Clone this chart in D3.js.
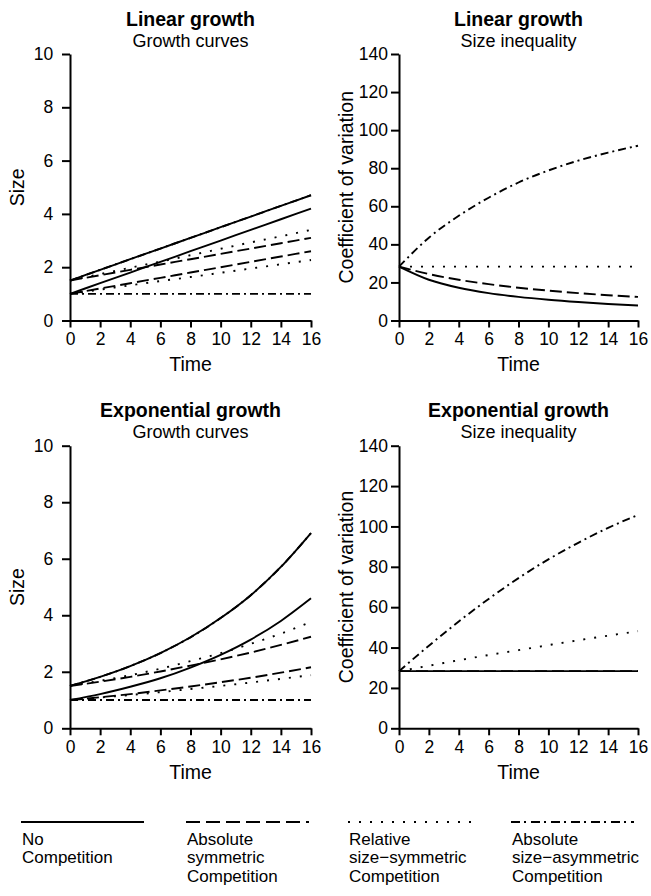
<!DOCTYPE html>
<html>
<head>
<meta charset="utf-8">
<script src="https://cdn.jsdelivr.net/npm/d3@7"></script>
<style>
  body { margin: 0; background: #fff; }
  svg { display: block; font-family: "Liberation Sans", Arial, Helvetica, sans-serif; }
  .axis path, .axis line { stroke: #000; stroke-width: 2; }
  .axis text { fill: #000; font-size: 17.5px; font-family: "Liberation Sans", Arial, sans-serif; }
</style>
</head>
<body>
<div class="chart"></div>
<script>
// time points and tick values
var time = [0, 2, 4, 6, 8, 10, 12, 14, 16];
var timeTicks = [0, 2, 4, 6, 8, 10, 12, 14, 16];
var sizeTicks = [0, 2, 4, 6, 8, 10];
var cvTicks = [0, 20, 40, 60, 80, 100, 120, 140];

// linear growth, sizes (large and small plant)
var linNoLarge     = [1.5, 1.9, 2.3, 2.7, 3.1, 3.5, 3.9, 4.3, 4.7];
var linNoSmall     = [1.0, 1.4, 1.8, 2.2, 2.6, 3.0, 3.4, 3.8, 4.2];
var linAbsSymLarge = [1.5, 1.7, 1.9, 2.1, 2.3, 2.5, 2.7, 2.9, 3.1];
var linAbsSymSmall = [1.0, 1.2, 1.4, 1.6, 1.8, 2.0, 2.2, 2.4, 2.6];
var linRelSymLarge = [1.5, 1.74, 1.98, 2.21, 2.45, 2.69, 2.93, 3.16, 3.4];
var linRelSymSmall = [1.0, 1.16, 1.32, 1.48, 1.63, 1.79, 1.95, 2.11, 2.27];
var linAsymLarge   = [1.5, 1.9, 2.3, 2.7, 3.1, 3.5, 3.9, 4.3, 4.7];
var linAsymSmall   = [1.0, 1.0, 1.0, 1.0, 1.0, 1.0, 1.0, 1.0, 1.0];

// linear growth, coefficient of variation
var linCvNo     = [28.3, 21.4, 17.2, 14.4, 12.4, 10.9, 9.7, 8.7, 7.9];
var linCvAbsSym = [28.3, 24.4, 21.4, 19.1, 17.2, 15.7, 14.4, 13.3, 12.4];
var linCvRelSym = [28.3, 28.3, 28.3, 28.3, 28.3, 28.3, 28.3, 28.3, 28.3];
var linCvAsym   = [28.3, 43.5, 55.0, 64.5, 72.5, 78.8, 84.0, 88.2, 91.8];

// exponential growth, sizes
var expNoLarge     = [1.5, 1.82, 2.2, 2.66, 3.22, 3.9, 4.71, 5.71, 6.91];
var expNoSmall     = [1.0, 1.21, 1.47, 1.77, 2.15, 2.6, 3.14, 3.8, 4.6];
var expAbsSymLarge = [1.5, 1.65, 1.82, 2.01, 2.22, 2.44, 2.68, 2.95, 3.24];
var expAbsSymSmall = [1.0, 1.1, 1.21, 1.34, 1.48, 1.63, 1.79, 1.97, 2.16];
var expRelSymLarge = [1.5, 1.68, 1.88, 2.11, 2.38, 2.66, 2.99, 3.35, 3.77];
var expRelSymSmall = [1.0, 1.09, 1.18, 1.28, 1.39, 1.5, 1.62, 1.75, 1.88];
var expAsymLarge   = [1.5, 1.82, 2.2, 2.66, 3.22, 3.9, 4.71, 5.71, 6.91];
var expAsymSmall   = [1.0, 1.0, 1.0, 1.0, 1.0, 1.0, 1.0, 1.0, 1.0];

// exponential growth, coefficient of variation
var expCvNo     = [28.3, 28.3, 28.3, 28.3, 28.3, 28.3, 28.3, 28.3, 28.3];
var expCvAbsSym = [28.3, 28.3, 28.3, 28.3, 28.3, 28.3, 28.3, 28.3, 28.3];
var expCvRelSym = [28.3, 31.0, 33.7, 36.3, 38.7, 41.2, 43.6, 45.9, 48.1];
var expCvAsym   = [28.3, 40.9, 52.9, 64.1, 74.4, 83.7, 91.9, 99.3, 105.7];

var legendLabels = [
  ['No', 'Competition'],
  ['Absolute', 'symmetric', 'Competition'],
  ['Relative', 'size\u2212symmetric', 'Competition'],
  ['Absolute', 'size\u2212asymmetric', 'Competition']
];

var dashes = { no: null, absSym: '12,5', relSym: '2,9', asym: '8,4,2,4' };
var legendDashes = ['none', '14,6', '2,9', '9,4,2,5'];

var svg = d3.select('.chart').append('svg').attr('width', 651).attr('height', 896);

var panels = [
  { title: 'Linear growth', sub: 'Growth curves', ylab: 'Size', ticks: sizeTicks,
    xr: [70, 311], yr: [320.5, 54], pad: 8.7, top: 0,
    series: [['asym', linAsymLarge], ['asym', linAsymSmall], ['relSym', linRelSymLarge], ['relSym', linRelSymSmall],
             ['absSym', linAbsSymLarge], ['absSym', linAbsSymSmall], ['no', linNoLarge], ['no', linNoSmall]] },
  { title: 'Linear growth', sub: 'Size inequality', ylab: 'Coefficient of variation', ticks: cvTicks,
    xr: [399, 638], yr: [320.5, 54], pad: 3, top: 0,
    series: [['asym', linCvAsym], ['relSym', linCvRelSym], ['absSym', linCvAbsSym], ['no', linCvNo]] },
  { title: 'Exponential growth', sub: 'Growth curves', ylab: 'Size', ticks: sizeTicks,
    xr: [70, 311], yr: [728.3, 445.7], pad: 8.7, top: 391,
    series: [['asym', expAsymLarge], ['asym', expAsymSmall], ['relSym', expRelSymLarge], ['relSym', expRelSymSmall],
             ['absSym', expAbsSymLarge], ['absSym', expAbsSymSmall], ['no', expNoLarge], ['no', expNoSmall]] },
  { title: 'Exponential growth', sub: 'Size inequality', ylab: 'Coefficient of variation', ticks: cvTicks,
    xr: [399, 638], yr: [728.3, 445.7], pad: 3, top: 391,
    series: [['asym', expCvAsym], ['relSym', expCvRelSym], ['no', expCvNo], ['absSym', expCvAbsSym]] }
];

panels.forEach(function(p) {
  var x = d3.scaleLinear().domain([0, 16]).range(p.xr);
  var y = d3.scaleLinear().domain([0, d3.max(p.ticks)]).range(p.yr);
  var cx = (p.xr[0] + p.xr[1]) / 2;
  var cy = (p.yr[0] + p.yr[1]) / 2;

  var line = d3.line()
    .x(function(d, i) { return x(time[i]); })
    .y(function(d) { return y(d); })
    .curve(d3.curveMonotoneX);

  svg.selectAll(null).data(p.series).enter().append('path')
    .attr('d', function(s) { return line(s[1]); })
    .attr('fill', 'none')
    .attr('stroke', '#000')
    .attr('stroke-width', 1.9)
    .attr('stroke-dasharray', function(s) { return dashes[s[0]]; });

  svg.append('g').attr('class', 'axis')
    .attr('transform', 'translate(' + p.xr[0] + ',0)')
    .call(d3.axisLeft(y).tickValues(p.ticks).tickSize(8).tickSizeOuter(0).tickPadding(p.pad).tickFormat(d3.format('d')));

  svg.append('g').attr('class', 'axis')
    .attr('transform', 'translate(0,' + p.yr[0] + ')')
    .call(d3.axisBottom(x).tickValues(timeTicks).tickSize(7).tickSizeOuter(0).tickPadding(5.5).tickFormat(d3.format('d')));

  svg.append('text').attr('x', cx).attr('y', p.top + 26).attr('text-anchor', 'middle')
    .attr('font-weight', 'bold').attr('font-size', 19.5).text(p.title);
  svg.append('text').attr('x', cx).attr('y', p.top + 47).attr('text-anchor', 'middle')
    .attr('font-size', 18).text(p.sub);
  svg.append('text').attr('x', cx).attr('y', p.yr[0] + 50.5).attr('text-anchor', 'middle')
    .attr('font-size', 19.5).text('Time');
  svg.append('text').attr('transform', 'translate(' + (p.xr[0] - 46.5) + ',' + cy + ') rotate(-90)')
    .attr('text-anchor', 'middle').attr('font-size', 19.5).text(p.ylab);
});

// legend
var lx = [21, 186, 348, 511];
var legend = svg.selectAll('.leg').data(legendLabels).enter().append('g')
  .attr('class', 'leg')
  .attr('transform', function(d, i) { return 'translate(' + lx[i] + ',0)'; });

legend.append('line')
  .attr('x1', 0).attr('x2', 123).attr('y1', 822).attr('y2', 822)
  .attr('stroke', '#000').attr('stroke-width', 2)
  .attr('stroke-dasharray', function(d, i) { return legendDashes[i]; });

legend.selectAll('text').data(function(d) { return d; }).enter().append('text')
  .attr('x', 1).attr('y', function(d, i) { return 845 + i * 18.3; })
  .attr('font-size', 17).text(function(d) { return d; });
</script>
</body>
</html>
